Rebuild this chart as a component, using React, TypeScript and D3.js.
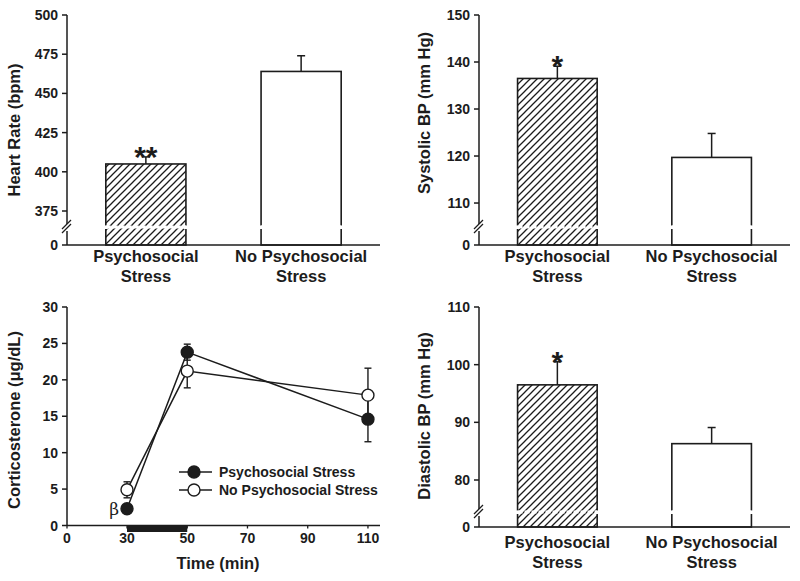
import React from "react";
import * as d3 from "d3";

// ---------- data ----------
const barCategories = [
  ["Psychosocial", "Stress"],
  ["No Psychosocial", "Stress"],
];
const hrMeans = [405, 464];
const hrErrors = [4.5, 10];
const hrTicks = [0, 375, 400, 425, 450, 475, 500];
const hrMarks = ["**", ""];

const sbpMeans = [136.5, 119.7];
const sbpErrors = [2.6, 5.1];
const sbpTicks = [0, 110, 120, 130, 140, 150];
const sbpMarks = ["*", ""];

const dbpMeans = [96.5, 86.3];
const dbpErrors = [4.0, 2.8];
const dbpTicks = [0, 80, 90, 100, 110];
const dbpMarks = ["*", ""];

const seriesNames = ["Psychosocial Stress", "No Psychosocial Stress"];
const timePoints = [30, 50, 110];
const stressCort = [2.3, 23.8, 14.6];
const stressCortErr = [0.5, 1.1, 3.1];
const noStressCort = [4.9, 21.2, 17.9];
const noStressCortErr = [1.1, 2.3, 3.7];
const cortTicks = [0, 5, 10, 15, 20, 25, 30];
const timeTicks = [0, 30, 50, 70, 90, 110];
const stressorWindow = [30, 50];

const FONT = "'Liberation Sans', Arial, Helvetica, sans-serif";
const INK = "#1c1c1c";

type BarPanelProps = {
  id: string;
  axisX: number;
  axisRight: number;
  zeroY: number;
  breakY: number;
  breakValue: number;
  topY: number;
  maxValue: number;
  ticks: number[];
  means: number[];
  errors: number[];
  marks: string[];
  yLabel: string;
  yLabelX: number;
  yLabelY: number;
  catOffset: number;
};

function BarPanel(p: BarPanelProps) {
  const y = d3
    .scaleLinear()
    .domain([0, p.breakValue, p.maxValue])
    .range([p.zeroY, p.breakY, p.topY]);
  const keys = barCategories.map((_, i) => String(i));
  const x = d3
    .scaleBand()
    .domain(keys)
    .range([p.axisX, p.axisRight])
    .paddingInner(0.484)
    .paddingOuter(0.25);
  const bw = x.bandwidth();
  return (
    <g>
      {p.means.map((m, i) => {
        const bx = x(String(i)) as number;
        const top = y(m);
        const errTop = y(m + p.errors[i]);
        const cx = bx + bw / 2;
        return (
          <g key={i}>
            <rect
              x={bx}
              y={top}
              width={bw}
              height={p.zeroY - top}
              fill={i === 0 ? `url(#hatch-${p.id})` : "#fff"}
              stroke={INK}
              strokeWidth={1.6}
            />
            <line x1={cx} x2={cx} y1={top} y2={errTop} stroke={INK} strokeWidth={1.5} />
            <line x1={cx - 4} x2={cx + 4} y1={errTop} y2={errTop} stroke={INK} strokeWidth={1.5} />
            {/* break gap through bar */}
            <rect x={bx - 2} y={p.breakY - 1.5} width={4} height={3.5} fill="#fff" />
            <rect x={bx + bw - 2} y={p.breakY - 1.5} width={4} height={3.5} fill="#fff" />
            <line
              x1={bx}
              x2={bx + bw}
              y1={p.breakY}
              y2={p.breakY}
              stroke="#fff"
              strokeWidth={3}
              strokeDasharray="5 2"
            />
            {p.marks[i] && (
              <text
                x={cx}
                y={errTop + 10}
                textAnchor="middle"
                fontSize={30}
                fontWeight="bold"
                fontFamily={FONT}
                fill={INK}
              >
                {p.marks[i]}
              </text>
            )}
            {barCategories[i].map((line, j) => (
              <text
                key={j}
                x={cx}
                y={p.zeroY + p.catOffset + j * 20}
                textAnchor="middle"
                fontSize={16.5}
                fontWeight="bold"
                fontFamily={FONT}
                fill={INK}
              >
                {line}
              </text>
            ))}
          </g>
        );
      })}
      {/* y axis with break */}
      <line x1={p.axisX} x2={p.axisX} y1={p.topY} y2={p.breakY - 3} stroke={INK} strokeWidth={1.5} />
      <line x1={p.axisX} x2={p.axisX} y1={p.breakY + 4} y2={p.zeroY} stroke={INK} strokeWidth={1.5} />
      <line x1={p.axisX - 5} x2={p.axisX + 4} y1={p.breakY + 2} y2={p.breakY - 7} stroke={INK} strokeWidth={1.3} />
      <line x1={p.axisX - 5} x2={p.axisX + 4} y1={p.breakY + 6} y2={p.breakY - 3} stroke={INK} strokeWidth={1.3} />
      {/* x axis */}
      <line x1={p.axisX} x2={p.axisRight} y1={p.zeroY} y2={p.zeroY} stroke={INK} strokeWidth={1.5} />
      {p.ticks.map((t) => (
        <g key={t}>
          <line x1={p.axisX - 5} x2={p.axisX} y1={y(t)} y2={y(t)} stroke={INK} strokeWidth={1.5} />
          <text
            x={p.axisX - 9}
            y={y(t)}
            dy="0.36em"
            textAnchor="end"
            fontSize={14}
            fontWeight="bold"
            fontFamily={FONT}
            fill={INK}
          >
            {t}
          </text>
        </g>
      ))}
      <text
        transform={`translate(${p.yLabelX},${p.yLabelY}) rotate(-90)`}
        textAnchor="middle"
        dy="0.36em"
        fontSize={16.5}
        fontWeight="bold"
        fontFamily={FONT}
        fill={INK}
      >
        {p.yLabel}
      </text>
    </g>
  );
}

function LinePanel() {
  const axisX = 67;
  const axisRight = 380;
  const zeroY = 525.5;
  const topY = 307;
  const x = d3.scaleLinear().domain([0, 30, 114]).range([axisX, 127, axisRight]);
  const y = d3.scaleLinear().domain([0, 30]).range([zeroY, topY]);
  const line = d3
    .line<number>()
    .x((_, i) => x(timePoints[i]))
    .y((d) => y(d));
  const series = [
    { vals: stressCort, errs: stressCortErr, fill: INK },
    { vals: noStressCort, errs: noStressCortErr, fill: "#fff" },
  ];
  return (
    <g>
      {series.map((s, si) => (
        <path key={si} d={line(s.vals) || ""} fill="none" stroke={INK} strokeWidth={1.5} />
      ))}
      {series.map((s, si) =>
        s.vals.map((v, i) => {
          const cx = x(timePoints[i]);
          const y1 = y(v + s.errs[i]);
          const y2 = y(v - s.errs[i]);
          return (
            <g key={`${si}-${i}`}>
              <line x1={cx} x2={cx} y1={y1} y2={y2} stroke={INK} strokeWidth={1.4} />
              <line x1={cx - 3.5} x2={cx + 3.5} y1={y1} y2={y1} stroke={INK} strokeWidth={1.4} />
              <line x1={cx - 3.5} x2={cx + 3.5} y1={y2} y2={y2} stroke={INK} strokeWidth={1.4} />
            </g>
          );
        })
      )}
      {series.map((s, si) =>
        s.vals.map((v, i) => (
          <circle
            key={`c${si}-${i}`}
            cx={x(timePoints[i])}
            cy={y(v)}
            r={6}
            fill={s.fill}
            stroke={INK}
            strokeWidth={1.4}
          />
        ))
      )}
      {/* beta marker */}
      <text
        x={x(timePoints[0]) - 8}
        y={y(stressCort[0]) + 6}
        textAnchor="end"
        fontSize={17}
        fontFamily="'DejaVu Serif', 'Liberation Serif', serif"
        fill={INK}
      >
        β
      </text>
      {/* stressor bar */}
      <rect
        x={x(stressorWindow[0])}
        y={zeroY}
        width={x(stressorWindow[1]) - x(stressorWindow[0])}
        height={6.5}
        fill={INK}
      />
      {/* axes */}
      <line x1={axisX} x2={axisX} y1={topY} y2={zeroY} stroke={INK} strokeWidth={1.5} />
      <line x1={axisX} x2={axisRight} y1={zeroY} y2={zeroY} stroke={INK} strokeWidth={1.5} />
      {cortTicks.map((t) => (
        <g key={t}>
          <line x1={axisX - 5} x2={axisX} y1={y(t)} y2={y(t)} stroke={INK} strokeWidth={1.5} />
          <text
            x={axisX - 9}
            y={y(t)}
            dy="0.36em"
            textAnchor="end"
            fontSize={14}
            fontWeight="bold"
            fontFamily={FONT}
            fill={INK}
          >
            {t}
          </text>
        </g>
      ))}
      {timeTicks.map((t) => (
        <g key={t}>
          <line x1={x(t)} x2={x(t)} y1={zeroY} y2={zeroY + 3} stroke={INK} strokeWidth={1.3} />
          <text
            x={x(t)}
            y={zeroY + 17}
            textAnchor="middle"
            fontSize={14}
            fontWeight="bold"
            fontFamily={FONT}
            fill={INK}
          >
            {t}
          </text>
        </g>
      ))}
      <text
        x={218}
        y={569}
        textAnchor="middle"
        fontSize={16.5}
        fontWeight="bold"
        fontFamily={FONT}
        fill={INK}
      >
        Time (min)
      </text>
      <text
        transform={`translate(14,420) rotate(-90)`}
        textAnchor="middle"
        dy="0.36em"
        fontSize={16.5}
        fontWeight="bold"
        fontFamily={FONT}
        fill={INK}
      >
        Corticosterone (μg/dL)
      </text>
      {/* legend */}
      {seriesNames.map((name, i) => {
        const ly = 472 + i * 18;
        return (
          <g key={name}>
            <line x1={179} x2={212} y1={ly} y2={ly} stroke={INK} strokeWidth={1.5} />
            <circle cx={194} cy={ly} r={6} fill={series[i].fill} stroke={INK} strokeWidth={1.4} />
            <text
              x={219}
              y={ly}
              dy="0.36em"
              fontSize={14}
              fontWeight="bold"
              fontFamily={FONT}
              fill={INK}
            >
              {name}
            </text>
          </g>
        );
      })}
    </g>
  );
}

export default function App() {
  const ids = ["hr", "sbp", "dbp"];
  return (
    <svg
      width={800}
      height={581}
      viewBox="0 0 800 581"
      style={{ position: "absolute", left: 0, top: 0, background: "#fff" }}
    >
      <defs>
        {ids.map((id) => (
          <pattern key={id} id={`hatch-${id}`} patternUnits="userSpaceOnUse" width={7} height={7}>
            <rect width={7} height={7} fill="#fff" />
            <path d="M-1,1 l2,-2 M0,7 l7,-7 M6,8 l2,-2" stroke={INK} strokeWidth={1.3} />
          </pattern>
        ))}
      </defs>
      <rect width={800} height={581} fill="#fff" />
      <BarPanel
        id="hr"
        axisX={67}
        axisRight={380}
        zeroY={245}
        breakY={227}
        breakValue={364.8}
        topY={15}
        maxValue={500}
        ticks={hrTicks}
        means={hrMeans}
        errors={hrErrors}
        marks={hrMarks}
        yLabel="Heart Rate (bpm)"
        yLabelX={14}
        yLabelY={130}
        catOffset={17}
      />
      <BarPanel
        id="sbp"
        axisX={479}
        axisRight={790}
        zeroY={245}
        breakY={227}
        breakValue={104.9}
        topY={15}
        maxValue={150}
        ticks={sbpTicks}
        means={sbpMeans}
        errors={sbpErrors}
        marks={sbpMarks}
        yLabel="Systolic BP (mm Hg)"
        yLabelX={424}
        yLabelY={113}
        catOffset={17}
      />
      <BarPanel
        id="dbp"
        axisX={479}
        axisRight={790}
        zeroY={527}
        breakY={512}
        breakValue={74.45}
        topY={307}
        maxValue={110}
        ticks={dbpTicks}
        means={dbpMeans}
        errors={dbpErrors}
        marks={dbpMarks}
        yLabel="Diastolic BP (mm Hg)"
        yLabelX={424}
        yLabelY={416}
        catOffset={21}
      />
      <LinePanel />
    </svg>
  );
}
